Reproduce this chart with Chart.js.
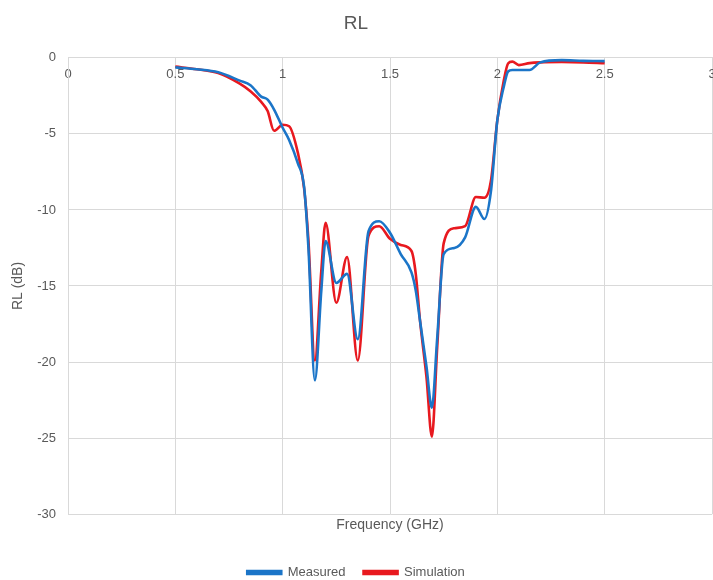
<!DOCTYPE html>
<html>
<head>
<meta charset="utf-8">
<script src="https://cdn.jsdelivr.net/npm/chart.js@4/dist/chart.umd.min.js"></script>
<style>
  html, body { margin: 0; padding: 0; background: #fff; }
  #wrap { width: 713px; height: 580px; }
</style>
</head>
<body>
<div id="wrap"><canvas id="rlChart"></canvas></div>
<script>
// Frequency points (GHz)
const freq = [0.5, 0.6, 0.7, 0.8, 0.85, 0.9, 0.93, 0.96, 1.0, 1.03, 1.07, 1.1, 1.12, 1.15, 1.18,
  1.2, 1.25, 1.3, 1.35, 1.4, 1.45, 1.5, 1.55, 1.6, 1.62, 1.64, 1.67, 1.695, 1.72, 1.75,
  1.8, 1.85, 1.9, 1.94, 1.97, 2.0, 2.03, 2.05, 2.07, 2.1, 2.15, 2.2, 2.3, 2.4, 2.5];

// RL in dB
const measured = [-0.63, -0.75, -0.95, -1.5, -1.8, -2.55, -2.75, -3.4, -4.6, -5.4, -6.9, -8.5, -12.5, -21.2, -15.3,
  -12.05, -14.8, -14.2, -18.5, -11.4, -10.74, -11.5, -12.9, -14.1, -15.3, -17.3, -20.3, -23.0, -18.4, -12.9,
  -12.5, -11.8, -9.8, -10.6, -8.8, -4.1, -1.9, -0.9, -0.8, -0.8, -0.8, -0.3, -0.15, -0.2, -0.22];
const simulation = [-0.58, -0.75, -1.0, -1.7, -2.2, -2.9, -3.5, -4.8, -4.4, -4.5, -6.2, -8.6, -12.0, -19.9, -14.0,
  -10.85, -16.1, -13.1, -19.9, -11.7, -11.07, -11.9, -12.3, -12.7, -14.2, -17.3, -21.0, -24.9, -19.0, -12.2,
  -11.2, -11.07, -9.15, -9.2, -8.1, -4.1, -1.5, -0.37, -0.25, -0.48, -0.35, -0.3, -0.28, -0.3, -0.35];

const textColor = "#595959";
const gridColor = "#d9d9d9";
const fontFamily = "'Liberation Sans', Arial, sans-serif";

function toPoints(values) {
  return freq.map((f, i) => ({ x: f, y: values[i] }));
}

// let the x axes run to the canvas edge, like the original
function noSidePadding(scale) {
  scale.paddingLeft = 0;
  scale.paddingRight = 0;
}

const ctx = document.getElementById("rlChart").getContext("2d");

new Chart(ctx, {
  type: "line",
  data: {
    datasets: [
      {
        label: "Measured",
        data: toPoints(measured),
        borderColor: "#1b75c8",
        backgroundColor: "#1b75c8",
        borderWidth: 2.6,
        pointRadius: 0,
        cubicInterpolationMode: "monotone",
        xAxisID: "x",
      },
      {
        label: "Simulation",
        data: toPoints(simulation),
        borderColor: "#e8191f",
        backgroundColor: "#e8191f",
        borderWidth: 2.6,
        pointRadius: 0,
        cubicInterpolationMode: "monotone",
        xAxisID: "x",
      },
    ],
  },
  options: {
    responsive: true,
    maintainAspectRatio: false,
    animation: false,
    layout: { padding: { left: 0, right: 1, top: 0, bottom: -9 } },
    scales: {
      x: {
        type: "linear",
        min: 0,
        max: 3,
        position: { y: 0 },
        ticks: {
          stepSize: 0.5,
          color: textColor,
          padding: 9,
          font: { family: fontFamily, size: 13 },
          callback: (v) => String(v),
        },
        grid: { color: gridColor, drawTicks: false },
        border: { color: gridColor },
        afterFit: noSidePadding,
      },
      x2: {
        type: "linear",
        min: 0,
        max: 3,
        position: "bottom",
        ticks: { display: false },
        grid: { display: false, drawTicks: false },
        border: { display: false },
        title: {
          display: true,
          text: "Frequency (GHz)",
          color: textColor,
          font: { family: fontFamily, size: 14 },
          padding: { top: 3, bottom: 14 },
        },
        afterFit: noSidePadding,
      },
      y: {
        min: -30,
        max: 0,
        ticks: { stepSize: 5, color: textColor, padding: 12, font: { family: fontFamily, size: 13 } },
        grid: { color: gridColor, drawTicks: false },
        border: { color: gridColor },
        title: {
          display: true,
          text: "RL (dB)",
          color: textColor,
          font: { family: fontFamily, size: 14 },
          padding: { top: 10, bottom: 0 },
        },
        afterFit: (scale) => { scale.width = 68; },
      },
    },
    plugins: {
      title: {
        display: true,
        text: "RL",
        color: textColor,
        font: { family: fontFamily, size: 19, weight: "normal" },
        padding: { top: 12, bottom: 23 },
      },
      legend: {
        position: "bottom",
        labels: {
          color: textColor,
          boxWidth: 34,
          boxHeight: 3,
          padding: 18,
          font: { family: fontFamily, size: 13 },
        },
      },
      tooltip: { enabled: false },
    },
  },
});
</script>
</body>
</html>
